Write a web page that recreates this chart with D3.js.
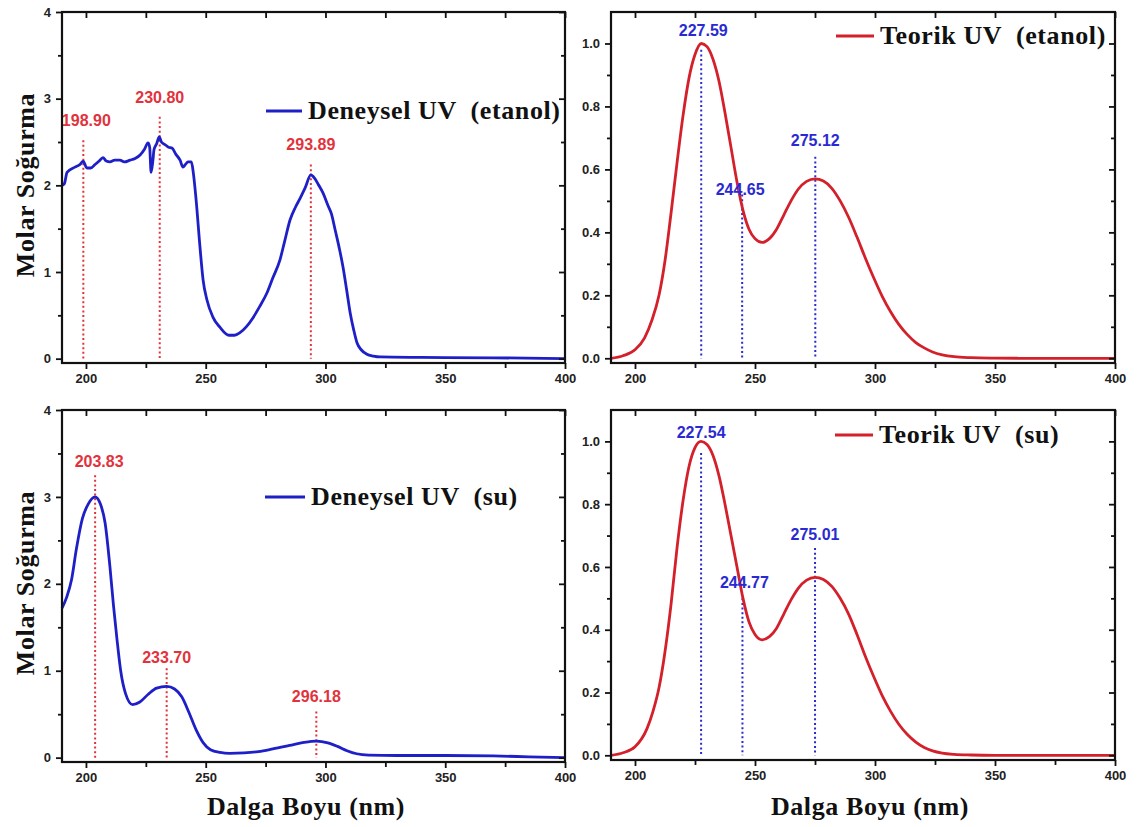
<!DOCTYPE html>
<html>
<head>
<meta charset="utf-8">
<script src="https://cdn.jsdelivr.net/npm/d3@7"></script>
<style>
  html, body { margin: 0; padding: 0; background: #fff; }
  svg { display: block; }
  .tick text { font-family: "Liberation Sans", Arial, sans-serif; font-weight: bold; font-size: 13px; fill: #222; }
  .ttl { font-family: "Liberation Serif", "Times New Roman", serif; font-weight: bold; fill: #111; letter-spacing: 0.6px; }
  .peak { font-family: "Liberation Sans", Arial, sans-serif; font-weight: bold; font-size: 16px; }
</style>
</head>
<body>
<script>
// ---- Deneysel UV (etanol) ----
const expEtanolNm = [190, 191, 192.1, 195.4, 197.5, 198.8, 200.4, 202, 203.8, 205.5, 207.1, 208.5, 210, 212, 214.2, 216, 218.4, 220.5, 222.6, 224.5, 225.9, 226.6, 227.2, 228, 228.4, 229.5, 230.6, 231.5, 233, 234.5, 235.9, 237.5, 239.3, 240.5, 241.5, 242.6, 244, 244.8, 246, 247.6, 248.9, 250.5, 253, 256, 259.7, 262, 264.3, 267, 269.7, 272.5, 275.6, 278, 281, 283, 285.2, 287.5, 289.4, 291.5, 293.9, 295.5, 297, 299, 301, 302.5, 304, 305.8, 307.3, 308.8, 310.3, 311.8, 313.2, 315, 317.3, 320, 322.8, 340, 370, 400];
const expEtanolAbs = [2.0, 2.02, 2.15, 2.21, 2.24, 2.28, 2.2, 2.2, 2.24, 2.28, 2.32, 2.28, 2.27, 2.29, 2.29, 2.27, 2.29, 2.31, 2.35, 2.42, 2.49, 2.44, 2.15, 2.3, 2.41, 2.48, 2.56, 2.5, 2.47, 2.44, 2.43, 2.36, 2.29, 2.21, 2.24, 2.27, 2.27, 2.15, 1.83, 1.29, 0.91, 0.68, 0.48, 0.36, 0.27, 0.27, 0.30, 0.37, 0.47, 0.6, 0.76, 0.93, 1.14, 1.36, 1.6, 1.75, 1.85, 1.97, 2.12, 2.08, 2.01, 1.91, 1.77, 1.67, 1.49, 1.27, 1.06, 0.8, 0.53, 0.33, 0.18, 0.1, 0.05, 0.03, 0.02, 0.015, 0.01, 0.0];
const expEtanolPeaks = [198.90, 230.80, 293.89];
const expEtanolLineTop = [2.52, 2.79, 2.24];
const expEtanolLabelY = [2.68, 2.95, 2.41];

// ---- Teorik UV (etanol) ----
const theoEtanolNm = [190, 195, 200, 204, 207, 210, 212.5, 215, 217.5, 220, 222.5, 225, 227.6, 230, 232.5, 235, 237.5, 240, 242.5, 245, 247.5, 250, 253, 256, 259, 262, 265, 268, 271.5, 275, 278.5, 282, 285.5, 289, 292.5, 296, 299.5, 303, 306.5, 310, 313.5, 317, 320.5, 324, 328, 333, 340, 350, 360, 400];
const theoEtanolAbs = [0.0, 0.008, 0.027, 0.065, 0.12, 0.2, 0.31, 0.46, 0.62, 0.77, 0.89, 0.965, 1.0, 0.99, 0.95, 0.88, 0.78, 0.67, 0.56, 0.47, 0.41, 0.38, 0.368, 0.38, 0.41, 0.455, 0.5, 0.537, 0.562, 0.57, 0.563, 0.54, 0.5, 0.448, 0.385, 0.318, 0.255, 0.197, 0.148, 0.107, 0.075, 0.05, 0.033, 0.02, 0.011, 0.005, 0.002, 0.0005, 0.0, 0.0];
const theoEtanolPeaks = [227.59, 244.65, 275.12];
const theoEtanolLineTop = [0.98, 0.52, 0.64];
const theoEtanolLabelY = [1.025, 0.52, 0.673];

// ---- Deneysel UV (su) ----
const expSuNm = [190, 192, 194, 196, 198.5, 201, 203.8, 206, 208, 210, 211.5, 213, 214.5, 216.5, 219.5, 222.5, 226, 229.5, 233.7, 237, 240, 243, 246, 249, 252, 256, 260, 266, 272, 278, 285, 291, 296.2, 301, 305, 309, 313, 318, 330, 350, 370, 385, 400];
const expSuAbs = [1.72, 1.85, 2.05, 2.4, 2.75, 2.92, 3.0, 2.92, 2.7, 2.2, 1.75, 1.35, 1.0, 0.74, 0.61, 0.64, 0.73, 0.8, 0.82, 0.79, 0.7, 0.52, 0.32, 0.17, 0.09, 0.06, 0.05, 0.055, 0.07, 0.1, 0.14, 0.175, 0.19, 0.17, 0.13, 0.08, 0.045, 0.03, 0.025, 0.025, 0.02, 0.01, 0.0];
const expSuPeaks = [203.83, 233.70, 296.18];
const expSuLineTop = [3.25, 1.03, 0.53];
const expSuLabelY = [3.34, 1.085, 0.64];

// ---- Teorik UV (su) ----
const theoSuNm = [190, 195, 200, 205, 207.5, 210, 212.5, 215, 217.5, 220, 222.5, 225, 227.5, 230, 232.5, 235, 237.5, 240, 242.5, 245, 247.5, 250, 253, 256, 259, 262, 265, 268, 271.5, 275, 278.5, 282, 285.5, 289, 292.5, 296, 299.5, 303, 306.5, 310, 313.5, 317, 320.5, 324, 328, 333, 340, 350, 400];
const theoSuAbs = [0.0, 0.008, 0.027, 0.085, 0.14, 0.215, 0.33, 0.48, 0.66, 0.81, 0.92, 0.98, 1.0, 0.99, 0.955, 0.89, 0.8, 0.7, 0.6, 0.5, 0.425, 0.385, 0.368, 0.378, 0.405, 0.45, 0.495, 0.532, 0.558, 0.567, 0.56, 0.538, 0.5, 0.45, 0.385, 0.315, 0.25, 0.19, 0.14, 0.098, 0.066, 0.042, 0.025, 0.014, 0.007, 0.003, 0.001, 0.0, 0.0];
const theoSuPeaks = [227.54, 244.77, 275.01];
const theoSuLineTop = [0.963, 0.5, 0.66];
const theoSuLabelY = [1.01, 0.534, 0.685];

// ---- Axis ticks ----
const xMajorTicks = [200, 250, 300, 350, 400];
const xMinorTicks = [225, 275, 325, 375];
const expYMajor = [0, 1, 2, 3, 4];
const expYMinor = [0.5, 1.5, 2.5, 3.5];
const theoYMajor = [0, 0.2, 0.4, 0.6, 0.8, 1.0];
const theoYMinor = [0.1, 0.3, 0.5, 0.7, 0.9];

const BLUE = "#1f1fc8";
const RED = "#d3202a";
const LABEL_RED = "#e2323c";
const LABEL_BLUE = "#2a2ad2";

const svg = d3.select("body").append("svg")
  .attr("width", 1138).attr("height", 827);

function panel(cfg) {
  const x = d3.scaleLinear().domain([190, 400]).range([cfg.left, cfg.right]);
  const y = d3.scaleLinear().domain(cfg.yDomain).range([cfg.bottom, cfg.top]);
  const g = svg.append("g");

  const line = d3.line().x((d, i) => x(cfg.nm[i])).y(d => y(d)).curve(d3.curveMonotoneX);

  // dotted drop lines at the marked peaks
  cfg.peaks.forEach((p, i) => {
    g.append("line")
      .attr("x1", x(p)).attr("x2", x(p))
      .attr("y1", y(cfg.lineTop[i])).attr("y2", y(0))
      .attr("stroke", cfg.dropColor).attr("stroke-width", 2)
      .attr("stroke-dasharray", "2,2.6");
  });
  g.append("path").datum(cfg.abs)
    .attr("d", line).attr("fill", "none")
    .attr("stroke", cfg.color).attr("stroke-width", 2.8)
    .attr("stroke-linejoin", "round");
  cfg.peaks.forEach((p, i) => {
    g.append("text").attr("class", "peak")
      .attr("x", x(p) + (cfg.labelDx ? cfg.labelDx[i] : 0)).attr("y", y(cfg.labelY[i]))
      .attr("text-anchor", "middle").attr("fill", cfg.labelColor)
      .text(p.toFixed(2));
  });

  // axes: left/bottom ticks outward, top/right mirrored inward
  g.append("g").attr("transform", `translate(0,${cfg.bottom})`)
    .call(d3.axisBottom(x).tickValues(xMajorTicks).tickSize(6).tickPadding(5).tickFormat(d3.format("d")));
  g.append("g").attr("transform", `translate(0,${cfg.bottom})`)
    .call(d3.axisBottom(x).tickValues(xMinorTicks).tickSize(5).tickFormat(""));
  g.append("g").attr("transform", `translate(0,${cfg.top})`)
    .call(d3.axisTop(x).tickValues(xMajorTicks.concat(xMinorTicks)).tickSize(-6).tickFormat(""));
  g.append("g").attr("transform", `translate(${cfg.left},0)`)
    .call(d3.axisLeft(y).tickValues(cfg.yMajor).tickSize(6).tickPadding(5).tickFormat(cfg.yFmt));
  g.append("g").attr("transform", `translate(${cfg.left},0)`)
    .call(d3.axisLeft(y).tickValues(cfg.yMinor).tickSize(4).tickFormat(""));
  g.append("g").attr("transform", `translate(${cfg.right},0)`)
    .call(d3.axisRight(y).tickValues(cfg.yMajor).tickSize(-6).tickFormat(""));
  g.append("g").attr("transform", `translate(${cfg.right},0)`)
    .call(d3.axisRight(y).tickValues(cfg.yMinor).tickSize(-4).tickFormat(""));
  g.selectAll(".domain").remove();
  g.selectAll(".tick line").attr("stroke", "#111").attr("stroke-width", 1.8);

  // frame
  g.append("rect")
    .attr("x", cfg.left).attr("y", cfg.top)
    .attr("width", cfg.right - cfg.left).attr("height", cfg.bottom - cfg.top)
    .attr("fill", "none").attr("stroke", "#111").attr("stroke-width", 2.2);

  // legend
  const lg = cfg.legend;
  g.append("line")
    .attr("x1", lg.x).attr("x2", lg.x + lg.len).attr("y1", lg.y).attr("y2", lg.y)
    .attr("stroke", cfg.color).attr("stroke-width", 3);
  g.append("text").attr("class", "ttl")
    .attr("x", lg.x + lg.len + 6).attr("y", lg.y + 8)
    .attr("font-size", 26).attr("xml:space", "preserve")
    .style("white-space", "pre")
    .text(lg.text);
}

panel({
  left: 62, right: 565, top: 12, bottom: 363,
  yDomain: [-0.05, 4], yMajor: expYMajor, yMinor: expYMinor, yFmt: d3.format("d"),
  nm: expEtanolNm, abs: expEtanolAbs, color: BLUE,
  peaks: expEtanolPeaks, lineTop: expEtanolLineTop, labelY: expEtanolLabelY,
  labelDx: [3, 0, 0],
  dropColor: LABEL_RED, labelColor: LABEL_RED,
  legend: { x: 266, y: 111, len: 36, text: "Deneysel UV  (etanol)" }
});

panel({
  left: 611, right: 1115, top: 12, bottom: 363,
  yDomain: [-0.015, 1.1], yMajor: theoYMajor, yMinor: theoYMinor, yFmt: d3.format(".1f"),
  nm: theoEtanolNm, abs: theoEtanolAbs, color: RED,
  peaks: theoEtanolPeaks, lineTop: theoEtanolLineTop, labelY: theoEtanolLabelY,
  labelDx: [2, -2, 0],
  dropColor: LABEL_BLUE, labelColor: LABEL_BLUE,
  legend: { x: 836, y: 36, len: 38, text: "Teorik UV  (etanol)" }
});

panel({
  left: 62, right: 565, top: 410, bottom: 762,
  yDomain: [-0.05, 4], yMajor: expYMajor, yMinor: expYMinor, yFmt: d3.format("d"),
  nm: expSuNm, abs: expSuAbs, color: BLUE,
  peaks: expSuPeaks, lineTop: expSuLineTop, labelY: expSuLabelY,
  labelDx: [4, 0, 0],
  dropColor: LABEL_RED, labelColor: LABEL_RED,
  legend: { x: 265, y: 497, len: 40, text: "Deneysel UV  (su)" }
});

panel({
  left: 611, right: 1115, top: 410, bottom: 760,
  yDomain: [-0.015, 1.1], yMajor: theoYMajor, yMinor: theoYMinor, yFmt: d3.format(".1f"),
  nm: theoSuNm, abs: theoSuAbs, color: RED,
  peaks: theoSuPeaks, lineTop: theoSuLineTop, labelY: theoSuLabelY,
  labelDx: [0, 2, 0],
  dropColor: LABEL_BLUE, labelColor: LABEL_BLUE,
  legend: { x: 835, y: 435, len: 38, text: "Teorik UV  (su)" }
});

// axis titles
[185, 583].forEach(cy => {
  svg.append("text").attr("class", "ttl")
    .attr("transform", `translate(34,${cy}) rotate(-90)`)
    .attr("text-anchor", "middle").attr("font-size", 26)
    .text("Molar Soğurma");
});
[306, 870].forEach(cx => {
  svg.append("text").attr("class", "ttl")
    .attr("x", cx).attr("y", 815)
    .attr("text-anchor", "middle").attr("font-size", 26)
    .text("Dalga Boyu (nm)");
});
</script>
</body>
</html>
